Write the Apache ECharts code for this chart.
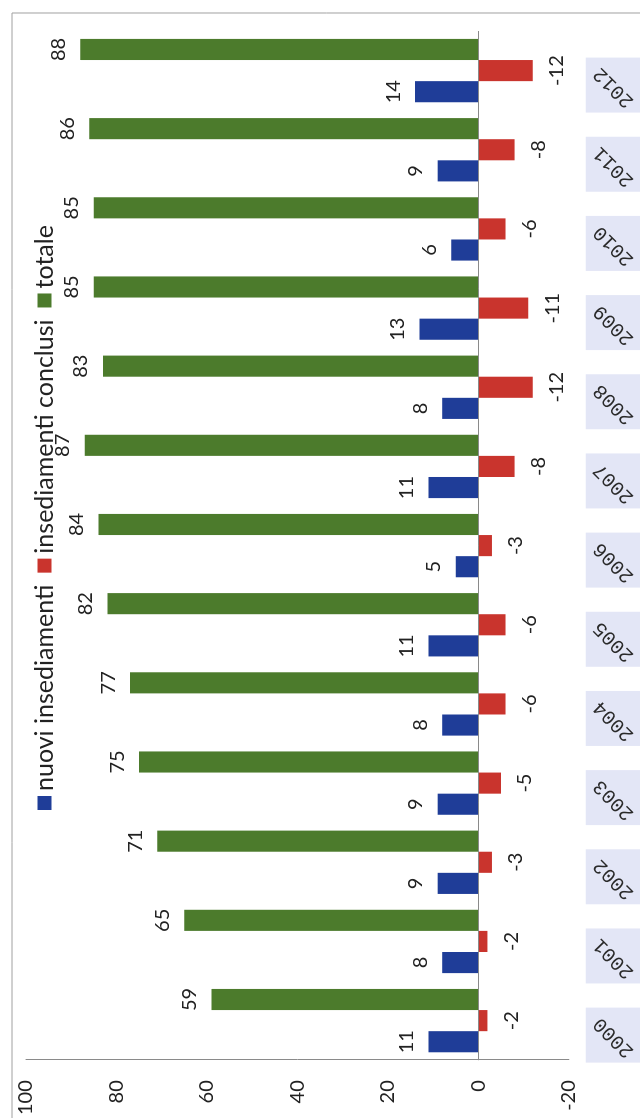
<!DOCTYPE html>
<html>
<head>
<meta charset="utf-8">
<script src="https://cdn.jsdelivr.net/npm/echarts@6/dist/echarts.min.js"></script>
<style>
  html, body { margin: 0; padding: 0; background: #ffffff; }
  body { width: 640px; height: 1118px; overflow: hidden; position: relative; }
  /* The column chart is laid out landscape and turned a quarter turn for the portrait page */
  #chart {
    position: absolute; left: 0; top: 0;
    width: 1118px; height: 640px;
    transform-origin: 0 0;
    transform: rotate(-90deg) translate(-1118px, 0);
  }
</style>
</head>
<body>
<div id="chart"></div>
<script>
// Years on the category axis
const years = ['2000', '2001', '2002', '2003', '2004', '2005', '2006',
               '2007', '2008', '2009', '2010', '2011', '2012'];
// New settlements per year
const nuovi = [11, 8, 9, 9, 8, 11, 5, 11, 8, 13, 6, 9, 14];
// Settlements closed per year (negative)
const conclusi = [-2, -2, -3, -5, -6, -6, -3, -8, -12, -11, -6, -8, -12];
// Running total
const totale = [59, 65, 71, 75, 77, 82, 84, 87, 83, 85, 85, 86, 88];
// Value axis range and step
const valueMin = -20;
const valueMax = 100;
const valueStep = 20;

const seriesNames = ['nuovi insediamenti', 'insediamenti conclusi', 'totale'];
const colors = ['#1f3d98', '#c9342d', '#4c7b2c'];

const chart = echarts.init(document.getElementById('chart'), null, { renderer: 'canvas' });

const labelFont = { fontFamily: 'Lato', fontSize: 20, color: '#222' };

function barSeries(name, data, color, position, distance) {
  return {
    name: name,
    type: 'bar',
    data: data,
    barCategoryGap: '20%',
    barGap: '0%',
    itemStyle: { color: color },
    label: Object.assign({ show: true, position: position, distance: distance }, labelFont)
  };
}

const blue = barSeries(seriesNames[0], nuovi, colors[0], 'top', 12);
// zero line across the plot
blue.markLine = {
  silent: true,
  symbol: 'none',
  label: { show: false },
  lineStyle: { color: '#8a8a8a', width: 1, type: 'solid' },
  data: [{ yAxis: 0 }]
};

chart.setOption({
  backgroundColor: '#ffffff',
  animation: false,
  textStyle: { fontFamily: 'Lato' },
  graphic: [{
    type: 'rect',
    silent: true,
    z: -10,
    shape: { x: -5, y: 12, width: 1110, height: 700 },
    style: { fill: 'none', stroke: '#a0a0a0', lineWidth: 1 }
  }],
  legend: {
    data: seriesNames,
    left: 303,
    top: 27,
    icon: 'rect',
    itemWidth: 14,
    itemHeight: 14,
    itemGap: 12,
    textStyle: { fontFamily: 'Lato', fontSize: 25, color: '#222' }
  },
  grid: { left: 56, right: 31, top: 26, bottom: 70, containLabel: false },
  xAxis: {
    type: 'category',
    data: years,
    z: 10,
    axisLine: { show: false, onZero: false },
    axisTick: { show: false },
    axisLabel: {
      rotate: 45,
      margin: 28,
      fontFamily: 'Liberation Mono',
      fontSize: 20,
      color: '#2a2a2a'
    }
  },
  yAxis: {
    type: 'value',
    min: valueMin,
    max: valueMax,
    interval: valueStep,
    axisLine: { show: true, lineStyle: { color: '#8a8a8a', width: 1 } },
    axisTick: { show: false },
    splitLine: { show: false },
    axisLabel: { margin: 20, fontFamily: 'Lato', fontSize: 20, color: '#222' }
  },
  series: [
    blue,
    barSeries(seriesNames[1], conclusi, colors[1], 'bottom', 14),
    barSeries(seriesNames[2], totale, colors[2], 'top', 12),
    {
      // shaded boxes behind the year labels
      type: 'custom',
      silent: true,
      z: -1,
      clip: false,
      data: years.map(function (y) { return [y, valueMin]; }),
      renderItem: function (params, api) {
        const p = api.coord([api.value(0), api.value(1)]);
        return {
          type: 'rect',
          shape: { x: p[0] - 42, y: p[1] + 17, width: 55, height: 90 },
          style: { fill: '#e3e6f6' }
        };
      }
    }
  ]
});
</script>
</body>
</html>
